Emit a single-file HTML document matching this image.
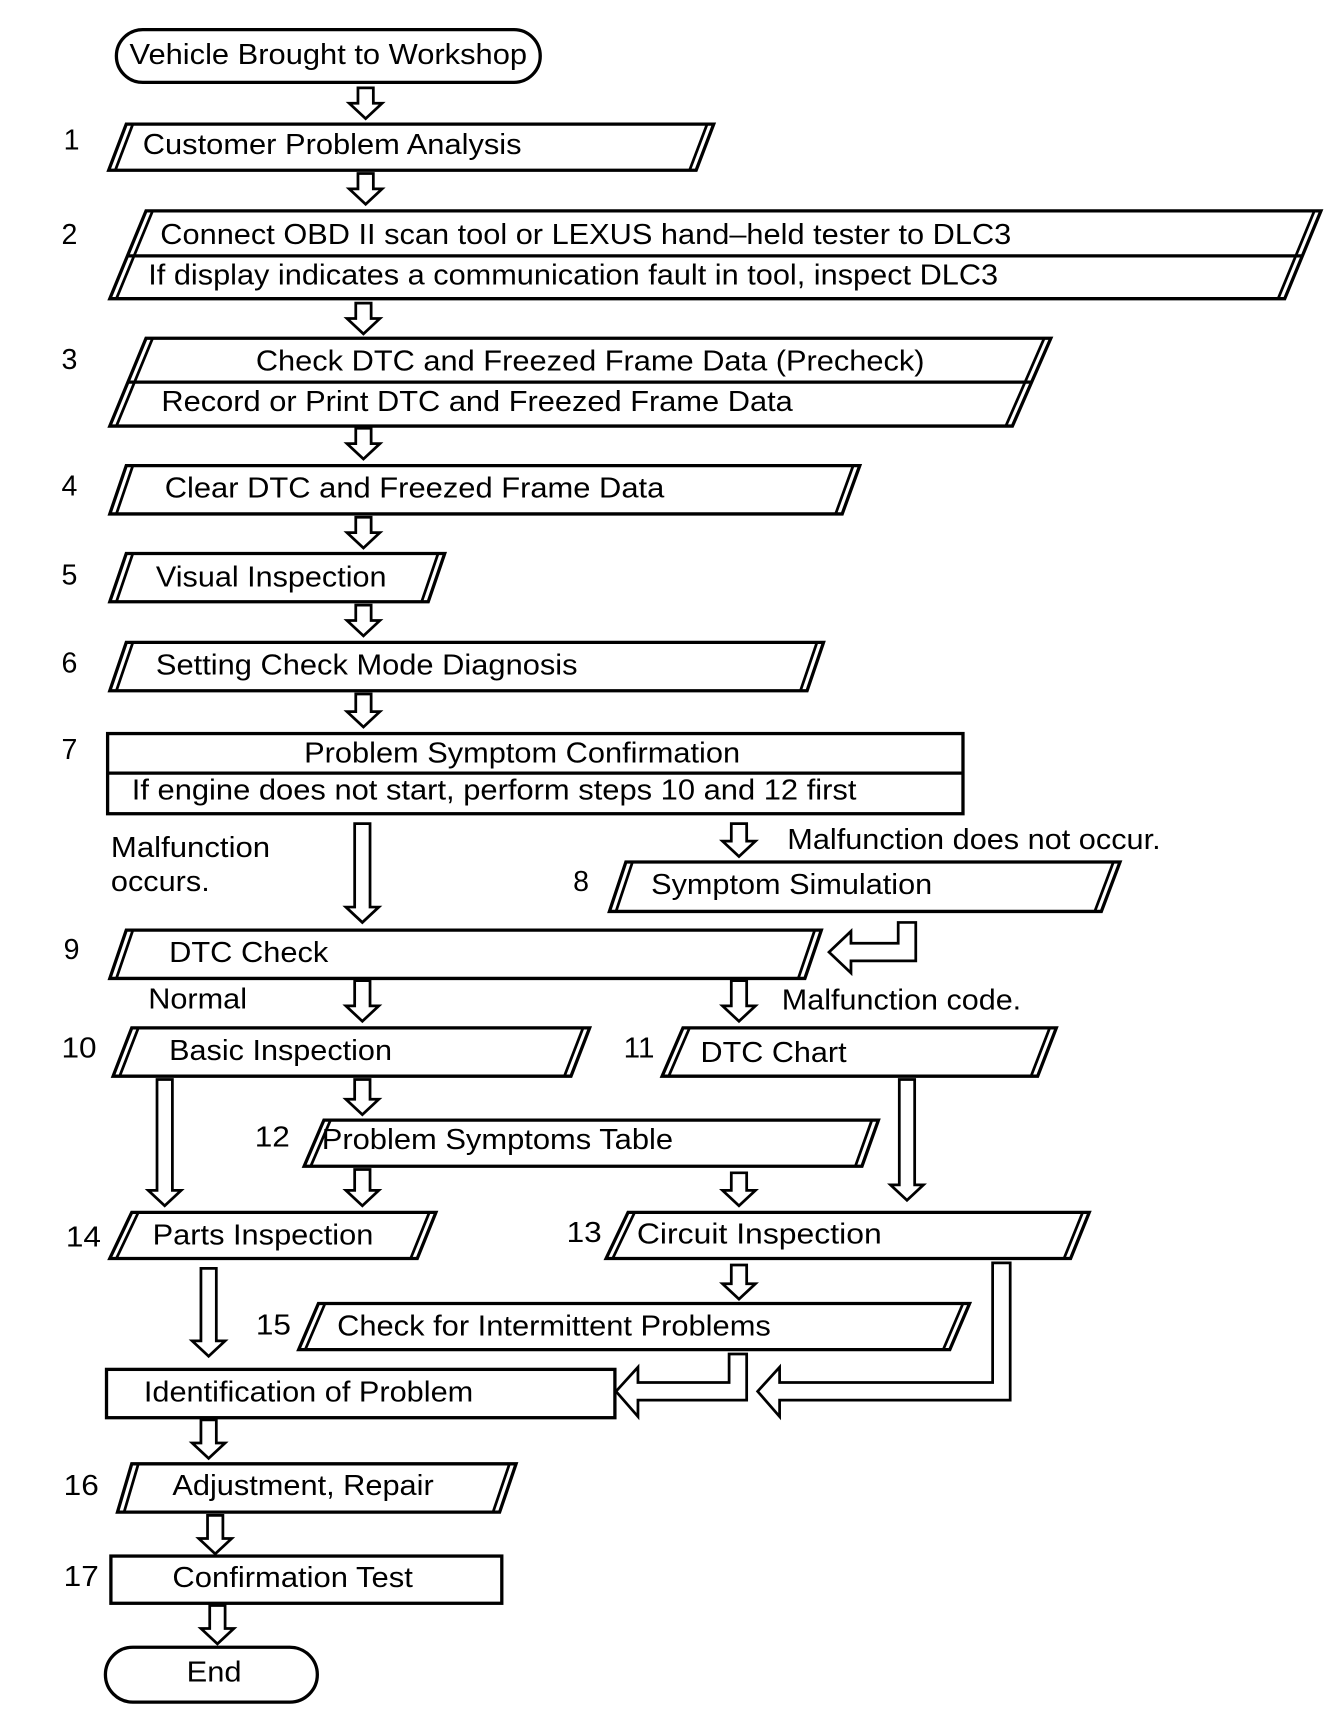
<!DOCTYPE html>
<html><head><meta charset="utf-8"><style>
html,body{margin:0;padding:0;background:#fff;}
svg{display:block;}
text{font-family:"Liberation Sans",Arial,sans-serif;font-size:26px;fill:#000;dominant-baseline:central;}
</style></head><body>
<svg width="1344" height="1712" viewBox="0 0 1224 1559" preserveAspectRatio="none" xmlns="http://www.w3.org/2000/svg">
<g fill="#fff" stroke="#000" stroke-width="3" stroke-linejoin="miter">
<!-- start -->
<rect x="106" y="27" width="386" height="48" rx="24" ry="24"/>
<!-- parallelograms -->
<polygon points="115,113 650,113 634,155 99,155"/>
<polygon points="133,192 1203,192 1170,272 100,272"/>
<line x1="116" y1="233" x2="1186" y2="233"/>
<polygon points="133,308 957,308 922,388 100,388"/>
<line x1="116" y1="348" x2="939" y2="348"/>
<polygon points="115,424 783,424 767,468 100,468"/>
<polygon points="115,504 405,504 390,548 100,548"/>
<polygon points="115,585 750,585 735,629 100,629"/>
<rect x="98" y="668" width="779" height="73"/>
<line x1="98" y1="704" x2="877" y2="704"/>
<polygon points="570,785 1020,785 1003,830 555,830"/>
<polygon points="115,847 748,847 733,891 100,891"/>
<polygon points="120,936 537,936 520,980 103,980"/>
<polygon points="622,936 962,936 945,980 603,980"/>
<polygon points="295,1020 800,1020 785,1062 277,1062"/>
<polygon points="120,1104 397,1104 380,1146 100,1146"/>
<polygon points="572,1104 992,1104 975,1146 552,1146"/>
<polygon points="290,1187 883,1187 865,1229 272,1229"/>
<rect x="97" y="1247" width="463" height="44"/>
<polygon points="120,1333 470,1333 455,1377 107,1377"/>
<rect x="101" y="1417" width="356" height="43"/>
<rect x="96" y="1500" width="193" height="50" rx="25" ry="25"/>
</g>
<g fill="none" stroke="#000" stroke-width="2.5">
<line x1="121" y1="113" x2="105" y2="155"/><line x1="644" y1="113" x2="628" y2="155"/>
<line x1="139" y1="192" x2="106" y2="272"/><line x1="1197" y1="192" x2="1164" y2="272"/>
<line x1="139" y1="308" x2="106" y2="388"/><line x1="951" y1="308" x2="916" y2="388"/>
<line x1="121" y1="424" x2="106" y2="468"/><line x1="777" y1="424" x2="761" y2="468"/>
<line x1="121" y1="504" x2="106" y2="548"/><line x1="399" y1="504" x2="384" y2="548"/>
<line x1="121" y1="585" x2="106" y2="629"/><line x1="744" y1="585" x2="729" y2="629"/>
<line x1="576" y1="785" x2="561" y2="830"/><line x1="1014" y1="785" x2="997" y2="830"/>
<line x1="121" y1="847" x2="106" y2="891"/><line x1="742" y1="847" x2="727" y2="891"/>
<line x1="126" y1="936" x2="109" y2="980"/><line x1="531" y1="936" x2="514" y2="980"/>
<line x1="628" y1="936" x2="609" y2="980"/><line x1="956" y1="936" x2="939" y2="980"/>
<line x1="301" y1="1020" x2="283" y2="1062"/><line x1="794" y1="1020" x2="779" y2="1062"/>
<line x1="126" y1="1104" x2="106" y2="1146"/><line x1="391" y1="1104" x2="374" y2="1146"/>
<line x1="578" y1="1104" x2="558" y2="1146"/><line x1="986" y1="1104" x2="969" y2="1146"/>
<line x1="296" y1="1187" x2="278" y2="1229"/><line x1="877" y1="1187" x2="859" y2="1229"/>
<line x1="126" y1="1333" x2="113" y2="1377"/><line x1="464" y1="1333" x2="449" y2="1377"/>
</g>
<g fill="#fff" stroke="#000" stroke-width="2.5" stroke-linejoin="miter">
<path d="M326 80H340V94H348L333 108L318 94H326Z"/>
<path d="M326 158H340V172H348L333 186L318 172H326Z"/>
<path d="M324 276H338V290H346L331 304L316 290H324Z"/>
<path d="M324 390H338V404H346L331 418L316 404H324Z"/>
<path d="M324 471H338V485H346L331 499L316 485H324Z"/>
<path d="M324 551H338V565H346L331 579L316 565H324Z"/>
<path d="M324 632H338V648H346L331 662L316 648H324Z"/>
<path d="M323 750H337V826H345L330 840L315 826H323Z"/>
<path d="M666 750H680V766H688L673 780L658 766H666Z"/>
<path d="M323 893H337V916H345L330 930L315 916H323Z"/>
<path d="M666 893H680V916H688L673 930L658 916H666Z"/>
<path d="M143 983H157V1084H165L150 1098L135 1084H143Z"/>
<path d="M323 983H337V1001H345L330 1015L315 1001H323Z"/>
<path d="M819 983H833V1079H841L826 1093L811 1079H819Z"/>
<path d="M323 1065H337V1084H345L330 1098L315 1084H323Z"/>
<path d="M666 1068H680V1084H688L673 1098L658 1084H666Z"/>
<path d="M183 1155H197V1221H205L190 1235L175 1221H183Z"/>
<path d="M666 1152H680V1169H688L673 1183L658 1169H666Z"/>
<path d="M183 1293H197V1314H205L190 1328L175 1314H183Z"/>
<path d="M189 1380H203V1401H211L196 1415L181 1401H189Z"/>
<path d="M191 1462H205V1483H213L198 1497L183 1483H191Z"/>
<path d="M818 840H834V875H775V886L755 867L775 848V859H818Z"/>
<path d="M664 1233H680V1275H581V1290L561 1267L581 1245V1259H664Z"/>
<path d="M904 1150H920V1275H710V1290L690 1267L710 1245V1259H904Z"/>
</g>
<g>
<text x="118" y="50" textLength="362" lengthAdjust="spacingAndGlyphs">Vehicle Brought to Workshop</text>
<text x="58" y="128">1</text>
<text x="130" y="132" textLength="345" lengthAdjust="spacingAndGlyphs">Customer Problem Analysis</text>
<text x="56" y="214">2</text>
<text x="146" y="214" textLength="775" lengthAdjust="spacingAndGlyphs">Connect OBD II scan tool or LEXUS hand–held tester to DLC3</text>
<text x="135" y="251" textLength="774" lengthAdjust="spacingAndGlyphs">If display indicates a communication fault in tool, inspect DLC3</text>
<text x="56" y="328">3</text>
<text x="233" y="329" textLength="609" lengthAdjust="spacingAndGlyphs">Check DTC and Freezed Frame Data (Precheck)</text>
<text x="147" y="366" textLength="575" lengthAdjust="spacingAndGlyphs">Record or Print DTC and Freezed Frame Data</text>
<text x="56" y="443">4</text>
<text x="150" y="445" textLength="455" lengthAdjust="spacingAndGlyphs">Clear DTC and Freezed Frame Data</text>
<text x="56" y="524">5</text>
<text x="142" y="526" textLength="210" lengthAdjust="spacingAndGlyphs">Visual Inspection</text>
<text x="56" y="604">6</text>
<text x="142" y="606" textLength="384" lengthAdjust="spacingAndGlyphs">Setting Check Mode Diagnosis</text>
<text x="56" y="683">7</text>
<text x="277" y="686" textLength="397" lengthAdjust="spacingAndGlyphs">Problem Symptom Confirmation</text>
<text x="120" y="720" textLength="660" lengthAdjust="spacingAndGlyphs">If engine does not start, perform steps 10 and 12 first</text>
<text x="101" y="772" textLength="145" lengthAdjust="spacingAndGlyphs">Malfunction</text>
<text x="101" y="803" textLength="90" lengthAdjust="spacingAndGlyphs">occurs.</text>
<text x="717" y="765" textLength="340" lengthAdjust="spacingAndGlyphs">Malfunction does not occur.</text>
<text x="522" y="803">8</text>
<text x="593" y="806" textLength="256" lengthAdjust="spacingAndGlyphs">Symptom Simulation</text>
<text x="58" y="865">9</text>
<text x="154" y="868" textLength="145" lengthAdjust="spacingAndGlyphs">DTC Check</text>
<text x="135" y="910" textLength="90" lengthAdjust="spacingAndGlyphs">Normal</text>
<text x="712" y="911" textLength="218" lengthAdjust="spacingAndGlyphs">Malfunction code.</text>
<text x="56" y="955" textLength="32" lengthAdjust="spacingAndGlyphs">10</text>
<text x="154" y="957" textLength="203" lengthAdjust="spacingAndGlyphs">Basic Inspection</text>
<text x="568" y="955" textLength="28" lengthAdjust="spacingAndGlyphs">11</text>
<text x="638" y="959" textLength="133" lengthAdjust="spacingAndGlyphs">DTC Chart</text>
<text x="232" y="1036" textLength="32" lengthAdjust="spacingAndGlyphs">12</text>
<text x="293" y="1038" textLength="320" lengthAdjust="spacingAndGlyphs">Problem Symptoms Table</text>
<text x="60" y="1127" textLength="32" lengthAdjust="spacingAndGlyphs">14</text>
<text x="139" y="1125" textLength="201" lengthAdjust="spacingAndGlyphs">Parts Inspection</text>
<text x="516" y="1123" textLength="32" lengthAdjust="spacingAndGlyphs">13</text>
<text x="580" y="1124" textLength="223" lengthAdjust="spacingAndGlyphs">Circuit  Inspection</text>
<text x="233" y="1207" textLength="32" lengthAdjust="spacingAndGlyphs">15</text>
<text x="307" y="1208" textLength="395" lengthAdjust="spacingAndGlyphs">Check for Intermittent Problems</text>
<text x="131" y="1268" textLength="300" lengthAdjust="spacingAndGlyphs">Identification of Problem</text>
<text x="58" y="1353" textLength="32" lengthAdjust="spacingAndGlyphs">16</text>
<text x="157" y="1353" textLength="238" lengthAdjust="spacingAndGlyphs">Adjustment, Repair</text>
<text x="58" y="1436" textLength="32" lengthAdjust="spacingAndGlyphs">17</text>
<text x="157" y="1437" textLength="219" lengthAdjust="spacingAndGlyphs">Confirmation Test</text>
<text x="170" y="1523" textLength="50" lengthAdjust="spacingAndGlyphs">End</text>
</g>
</svg>
</body></html>
